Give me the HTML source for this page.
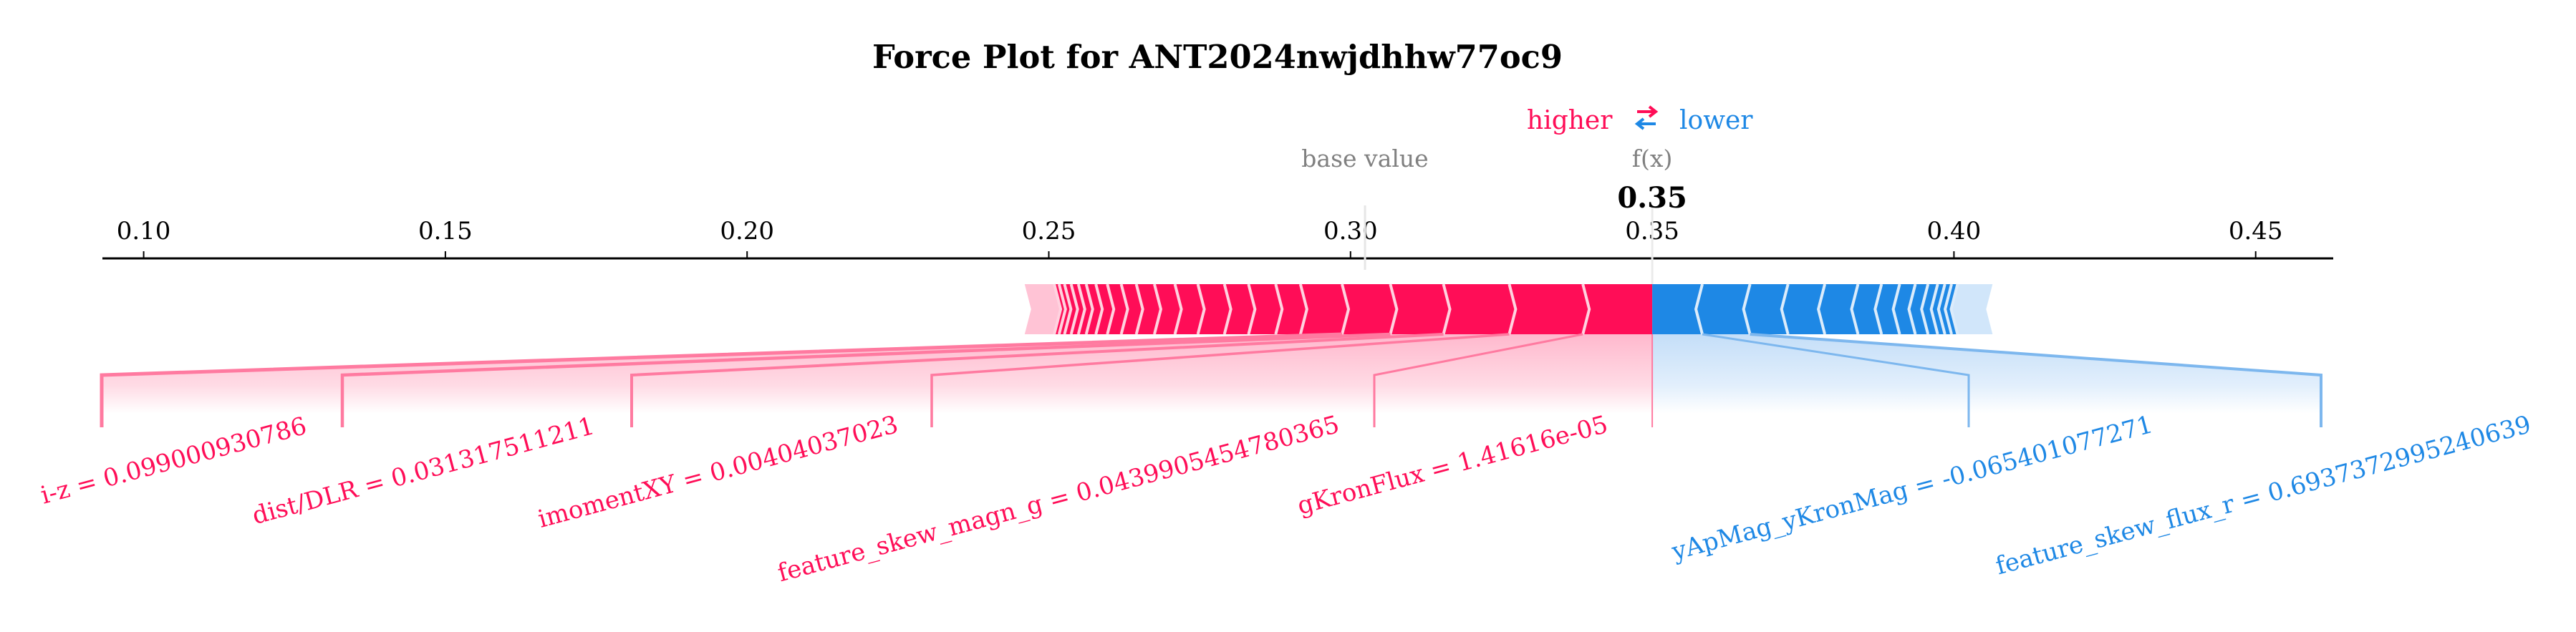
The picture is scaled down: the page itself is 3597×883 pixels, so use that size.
<!DOCTYPE html>
<html><head><meta charset="utf-8"><style>
html,body{margin:0;padding:0;background:#fff;}
svg{display:block;font-family:"DejaVu Serif","Liberation Serif",serif;}
</style></head><body>
<svg id="chart" width="3597" height="883" viewBox="0 0 3597 883" xmlns="http://www.w3.org/2000/svg">
<defs>
<linearGradient id="gRed" x1="0" y1="0" x2="0" y2="1">
<stop offset="0" stop-color="#ffb8cd"/><stop offset="0.55" stop-color="#ffdbe5"/><stop offset="0.85" stop-color="#ffffff"/></linearGradient>
<linearGradient id="gBlue" x1="0" y1="0" x2="0" y2="1">
<stop offset="0" stop-color="#c4def8"/><stop offset="0.55" stop-color="#e2effc"/><stop offset="0.85" stop-color="#ffffff"/></linearGradient>
</defs>
<text x="1700" y="95" text-anchor="middle" font-weight="bold" font-size="45" textLength="964" lengthAdjust="spacingAndGlyphs" fill="#000">Force Plot for ANT2024nwjdhhw77oc9</text>
<g>
<text x="2132" y="180" font-size="36" fill="#ff0d57">higher</text>
<path d="M2286 156 H2312 M2303 149 L2312 156 L2303 163" stroke="#ff0d57" stroke-width="4" fill="none"/>
<path d="M2312 173 H2286 M2295 166 L2286 173 L2295 180" stroke="#1e88e5" stroke-width="4" fill="none"/>
<text x="2345" y="180" font-size="36" fill="#1e88e5">lower</text>
</g>
<g id="plot"></g>
</svg>
<script>
const baseValue = 0.3024;
const tickValues = [0.10, 0.15, 0.20, 0.25, 0.30, 0.35, 0.40, 0.45];
const tickLabels = ["0.10","0.15","0.20","0.25","0.30","0.35","0.40","0.45"];
const redValues = [0.0115,0.0122,0.0109,0.0088,0.0080,0.0069,0.0041,0.0045,0.0040,0.0044,0.0038,0.0034,0.0030,0.0025,0.0023,0.0019,0.0016,0.0013,0.0012,0.0011,0.0009,0.0008];
const redTail = 0.0049;
const blueValues = [0.0083,0.0079,0.0063,0.0061,0.0055,0.0039,0.0030,0.0026,0.0021,0.0016,0.0012,0.0011,0.0010];
const blueTail = 0.0058;
const redLabels = ["gKronFlux = 1.41616e-05","feature_skew_magn_g = 0.0439905454780365","imomentXY = 0.00404037023","dist/DLR = 0.031317511211","i-z = 0.099000930786"];
const blueLabels = ["yApMag_yKronMag = -0.065401077271","feature_skew_flux_r = 0.6937372995240639"];

const NS="http://www.w3.org/2000/svg";
const plot=document.getElementById('plot');
function mk(tag,attrs,parent){const e=document.createElementNS(NS,tag);for(const k in attrs)e.setAttribute(k,attrs[k]);(parent||plot).appendChild(e);return e;}
function x(v){return 200.6+(v-0.10)*8426;}
const sum=a=>a.reduce((s,v)=>s+v,0);
const fx = baseValue + sum(redValues)+redTail - sum(blueValues)-blueTail;
const TOP=397,BOT=467,MID=432,D=9;
const LT=524,LB=597;

let ax=mk('line',{x1:143,x2:3258,y1:361,y2:361,stroke:'#000','stroke-width':3});


tickValues.forEach((v,i)=>{
  let t=mk('line',{x1:x(v),x2:x(v),y1:351,y2:361,stroke:'#000','stroke-width':2});
  
  
  let l=mk('text',{x:x(v),y:334,'text-anchor':'middle','font-size':34,fill:'#000'});
  
  
  l.textContent=tickLabels[i];
});
let bl=mk('line',{x1:x(baseValue),x2:x(baseValue),y1:287,y2:377,stroke:'#e6e6e6','stroke-width':3});


let bt=mk('text',{x:x(baseValue),y:233,'text-anchor':'middle','font-size':33,fill:'#808080'});


bt.textContent='base value';
let fl=mk('line',{x1:x(fx),x2:x(fx),y1:287,y2:TOP,stroke:'#ebebeb','stroke-width':3});


let ft=mk('text',{x:x(fx),y:233,'text-anchor':'middle','font-size':33,fill:'#808080'});


ft.textContent='f(x)';
let fv=mk('text',{x:x(fx),y:290,'text-anchor':'middle','font-size':40,'font-weight':'bold',fill:'#000'});


fv.textContent=fx.toFixed(2);

const rb=[fx]; redValues.forEach(v=>rb.push(rb[rb.length-1]-v));
const redStart=rb[rb.length-1]-redTail;
const bb=[fx]; blueValues.forEach(v=>bb.push(bb[bb.length-1]+v));
const blueEnd=bb[bb.length-1]+blueTail;

const nR=redLabels.length, nB=blueLabels.length;
const redVx=[1919,1301,882,478,142];
const blueVx=[2749,3241];
let sr=mk('polygon',{points:`${x(fx)},${BOT} ${x(rb[nR])},${BOT} ${redVx[nR-1]},${LT} ${redVx[nR-1]},${LB} ${x(fx)},${LB}`,fill:'url(#gRed)'});


let sb=mk('polygon',{points:`${x(fx)},${BOT} ${x(bb[nB])},${BOT} ${blueVx[nB-1]},${LT} ${blueVx[nB-1]},${LB} ${x(fx)},${LB}`,fill:'url(#gBlue)'});


let fxv=mk('line',{x1:x(fx),x2:x(fx),y1:BOT,y2:LB,stroke:'#ff7aa0','stroke-width':2});



let rt=mk('polygon',{points:`${x(redStart)},${TOP} ${x(rb[rb.length-1])},${TOP} ${x(rb[rb.length-1])+D},${MID} ${x(rb[rb.length-1])},${BOT} ${x(redStart)},${BOT} ${x(redStart)+D},${MID}`,fill:'#ffc3d5'});


redValues.forEach((v,i)=>{
  const b=x(rb[i]), a=x(rb[i+1]);
  const dR = i===0?0:D;
  let p=mk('polygon',{points:`${a},${TOP} ${b},${TOP} ${b+dR},${MID} ${b},${BOT} ${a},${BOT} ${a+D},${MID}`,fill:'#ff0d57'});
  
  
});
redValues.forEach((v,i)=>{
  const a=x(rb[i+1]);
  let s=mk('polyline',{points:`${a},${TOP} ${a+D},${MID} ${a},${BOT}`,fill:'none',stroke:'#ffd3e0','stroke-width':4});
  
  
});
let bt2=mk('polygon',{points:`${x(bb[bb.length-1])},${TOP} ${x(blueEnd)},${TOP} ${x(blueEnd)-D},${MID} ${x(blueEnd)},${BOT} ${x(bb[bb.length-1])},${BOT} ${x(bb[bb.length-1])-D},${MID}`,fill:'#d1e6fa'});


blueValues.forEach((v,i)=>{
  const a=x(bb[i]), b=x(bb[i+1]);
  const dL = i===0?0:D;
  let p=mk('polygon',{points:`${a},${TOP} ${b},${TOP} ${b-D},${MID} ${b},${BOT} ${a},${BOT} ${a-dL},${MID}`,fill:'#1e88e5'});
  
  
});
blueValues.forEach((v,i)=>{
  const b=x(bb[i+1]);
  let s=mk('polyline',{points:`${b},${TOP} ${b-D},${MID} ${b},${BOT}`,fill:'none',stroke:'#dcecfb','stroke-width':4});
  
  
});

const redEnds=[[2247,603],[1872,603],[1256,603],[832,605],[430,605]];
const blueEnds=[[3008,603],[3536,603]];
redLabels.forEach((lab,i)=>{
  const sx=x(rb[i+1]), vx=redVx[i];
  let c=mk('polyline',{points:`${sx},${BOT} ${vx},${LT} ${vx},${LB}`,fill:'none',stroke:'#ff7aa0','stroke-width':3+i*0.5});
  
  
  const [ex,ey]=redEnds[i];
  let t=mk('text',{x:ex,y:ey,'text-anchor':'end','font-size':34,fill:'#ff0d57',transform:`rotate(-15 ${ex} ${ey})`});
  
  
  t.textContent=lab;
});
blueLabels.forEach((lab,i)=>{
  const sx=x(bb[i+1]), vx=blueVx[i];
  let c=mk('polyline',{points:`${sx},${BOT} ${vx},${LT} ${vx},${LB}`,fill:'none',stroke:'#7db7ee','stroke-width':3+i*1});
  
  
  const [ex,ey]=blueEnds[i];
  let t=mk('text',{x:ex,y:ey,'text-anchor':'end','font-size':34,fill:'#1e88e5',transform:`rotate(-15 ${ex} ${ey})`});
  
  
  t.textContent=lab;
});
</script>
</body></html>
